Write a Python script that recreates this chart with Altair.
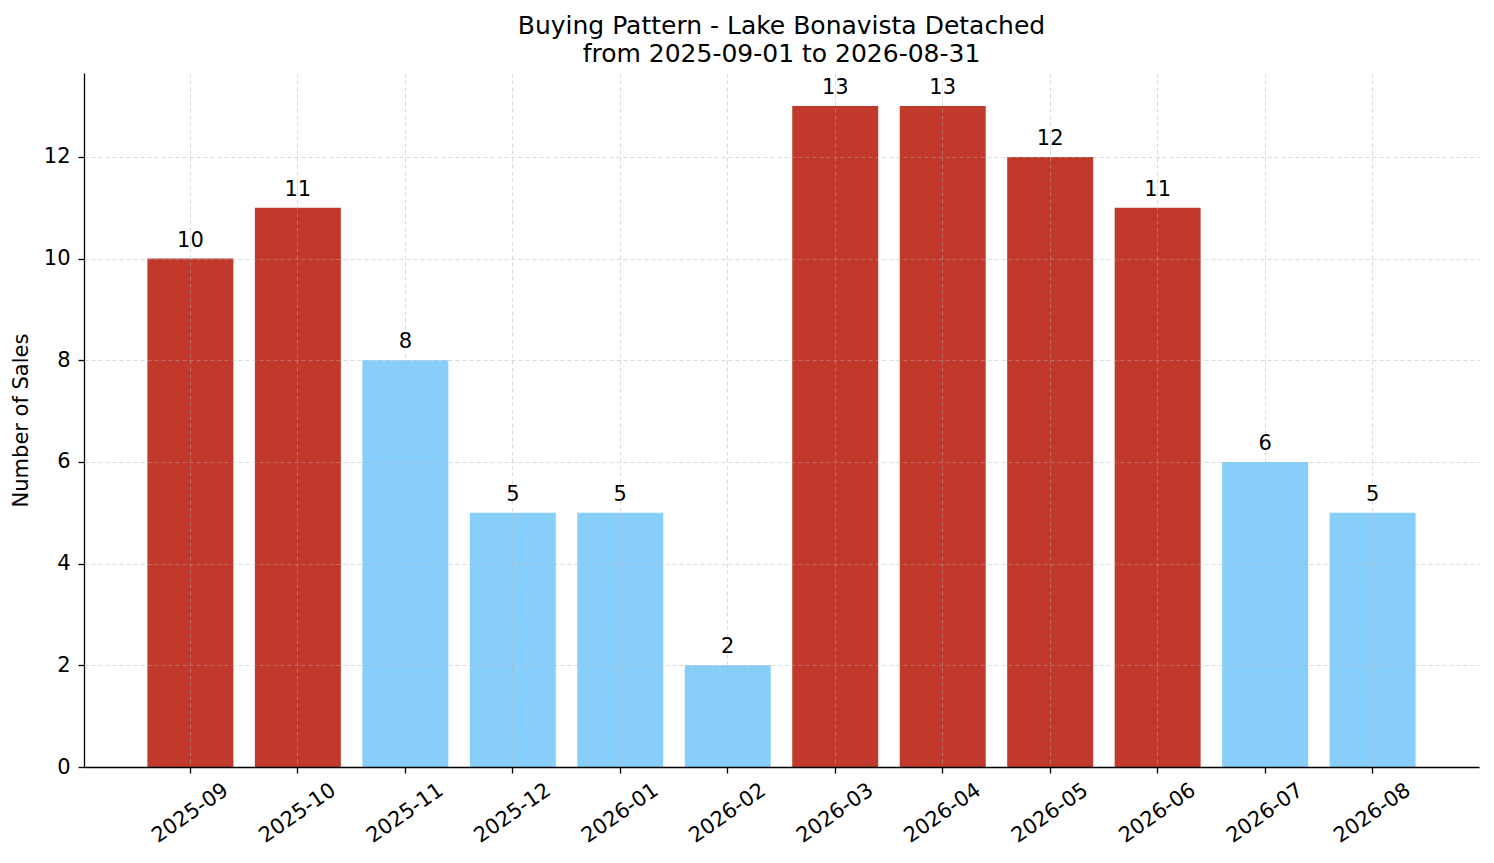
import altair as alt
import pandas as pd

months = ["2025-09", "2025-10", "2025-11", "2025-12", "2026-01", "2026-02",
          "2026-03", "2026-04", "2026-05", "2026-06", "2026-07", "2026-08"]
sales = [10, 11, 8, 5, 5, 2, 13, 13, 12, 11, 6, 5]
busy = [True, True, False, False, False, False, True, True, True, True, False, False]

df = pd.DataFrame({"Month": months, "Sales": sales,
                   "Group": ["high" if b else "low" for b in busy]})

font = "DejaVu Sans"

x = alt.X("Month:N", sort=months, title=None,
          scale=alt.Scale(paddingInner=0.2, paddingOuter=0.59),
          axis=alt.Axis(labelAngle=-35, labelAlign="center", labelBaseline="middle",
                        labelPadding=40, tickSize=6, grid=True, bandPosition=0.5,
                        zindex=1))
y = alt.Y("Sales:Q", title="Number of Sales",
          scale=alt.Scale(domain=[0, 13.65], nice=False),
          axis=alt.Axis(values=[0, 2, 4, 6, 8, 10, 12], tickSize=6, grid=True,
                        labelPadding=8, titlePadding=12, zindex=1))

bars = alt.Chart(df).mark_bar().encode(
    x=x,
    y=y,
    color=alt.Color("Group:N", legend=None,
                    scale=alt.Scale(domain=["high", "low"], range=["#c0392b", "#87cefa"])),
)

labels = alt.Chart(df).mark_text(baseline="alphabetic", dy=-12, fontSize=21,
                                 font=font, color="black").encode(
    x=alt.X("Month:N", sort=months),
    y="Sales:Q",
    text="Sales:Q",
)

chart = (bars + labels).properties(
    width=1395,
    height=694,
    autosize=alt.AutoSizeParams(type="none"),
    padding={"left": 76, "top": 65, "right": 7, "bottom": 80},
    title=alt.TitleParams(["Buying Pattern - Lake Bonavista Detached",
                           "from 2025-09-01 to 2026-08-31"],
                          fontSize=25, font=font, fontWeight="normal", color="black",
                          anchor="middle", lineHeight=28, offset=6),
).configure_view(
    stroke=None
).configure_axis(
    labelFont=font, titleFont=font, labelFontSize=21, titleFontSize=21,
    titleFontWeight="normal", labelColor="black", titleColor="black",
    domainColor="black", tickColor="black", domainWidth=1.3, tickWidth=1.3,
    gridColor="#b0b0b0", gridOpacity=0.6, gridDash=[4, 3], gridWidth=0.8,
)

chart.save("out.html", embed_options={"renderer": "svg", "actions": False})
